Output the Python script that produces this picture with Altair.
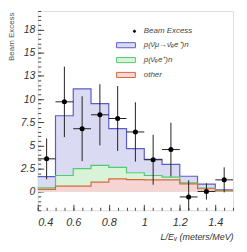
import altair as alt
import pandas as pd

# ---- data ----
bin_edges = [0.4, 0.5, 0.6, 0.7, 0.8, 0.9, 1.0, 1.1, 1.2, 1.3, 1.4, 1.5]
osc_total = [1.63, 8.2, 11.1, 9.5, 6.8, 4.65, 3.5, 2.95, 1.67, 0.82, 0.2]
intrinsic = [0.42, 1.75, 2.5, 2.85, 2.63, 2.05, 1.75, 1.58, 0.95, 0.4, 0.12]
other_bg = [0.25, 0.6, 0.6, 1.03, 1.38, 1.3, 1.28, 1.28, 0.85, 0.32, 0.08]

pt_x = [0.45, 0.55, 0.65, 0.75, 0.85, 0.95, 1.05, 1.15, 1.25, 1.35, 1.45]
pt_y = [3.55, 9.7, 6.8, 8.3, 7.9, 6.45, 3.45, 4.55, -0.56, 0.03, 1.28]
pt_err = [2.2, 3.8, 3.5, 3.3, 3.5, 3.2, 2.7, 2.9, 1.8, 0.88, 1.35]
half_bin = 0.05

x_major = [0.4, 0.6, 0.8, 1.0, 1.2, 1.4]
y_major = [0, 2.5, 5, 7.5, 10, 12.5, 15, 17.5]
x_minor = [round(0.4 + 0.05 * i, 2) for i in range(23)]
y_minor = [i * 0.5 for i in range(-4, 40)]

series_names = ["Beam Excess", "p(ν̄μ→ν̄ₑe⁺)n", "p(ν̄ₑe⁺)n", "other"]
fill_colors = ["#000000", "#dadaf2", "#d8f3d8", "#f6d4d4"]
line_colors = ["#000000", "#5c5cc8", "#50cc70", "#d8683c"]

X_DOMAIN = [0.4, 1.5]
Y_DOMAIN = [-2, 19.5]


def steps(vals):
    return pd.DataFrame({"x": bin_edges, "y": list(vals) + [vals[-1]]})


pts = pd.DataFrame({
    "x": pt_x,
    "y": pt_y,
    "lo": [y - e for y, e in zip(pt_y, pt_err)],
    "hi": [y + e for y, e in zip(pt_y, pt_err)],
    "xlo": [x - half_bin for x in pt_x],
    "xhi": [x + half_bin for x in pt_x],
})

FONT = "Liberation Sans"

xs = alt.Scale(domain=X_DOMAIN, nice=False, zero=False)
ys = alt.Scale(domain=Y_DOMAIN, nice=False, zero=False)

x_main_axis = alt.Axis(
    values=x_major, format="~g", grid=False, domain=False,
    tickSize=alt.ExprRef(expr="-6"), tickColor="#444",
    labelPadding=12, labelFont=FONT, labelFontStyle="italic",
    labelFontSize=11, labelColor="#333",
    title="L/Eᵥ (meters/MeV)", titleFont=FONT, titleFontStyle="italic",
    titleFontWeight="normal", titleFontSize=9, titleColor="#333",
    titleAnchor="end", titleAlign="right", titleBaseline="alphabetic",
    titleX=197, titleY=29, titleAngle=0,
)
y_main_axis = alt.Axis(
    values=y_major, format="~g", grid=False, domain=False,
    tickSize=alt.ExprRef(expr="-6"), tickColor="#444",
    labelPadding=9, labelFont=FONT, labelFontStyle="italic",
    labelFontSize=10.5, labelColor="#333",
    title="Beam Excess", titleFont=FONT, titleFontWeight="normal",
    titleFontSize=8, titleColor="#555",
    titleAngle=270, titleAlign="right", titleBaseline="bottom",
    titleX=-22, titleY=1,
)
x_minor_axis = alt.Axis(
    orient="bottom", values=x_minor, grid=False, domain=False, labels=False,
    tickSize=alt.ExprRef(expr="-3"), tickColor="#444", title=None,
)
y_minor_axis = alt.Axis(
    orient="left", values=y_minor, grid=False, domain=False, labels=False,
    tickSize=alt.ExprRef(expr="-3"), tickColor="#444", title=None,
)


def hist_layers(vals, fill, stroke, first=False):
    d = steps(vals)
    xa = x_main_axis if first else None
    ya = y_main_axis if first else None
    area = alt.Chart(d).mark_area(interpolate="step-after", color=fill, opacity=1).encode(
        x=alt.X("x:Q", scale=xs, axis=xa),
        y=alt.Y("y:Q", scale=ys, axis=ya),
        y2=alt.datum(0),
    )
    line = alt.Chart(d).mark_line(interpolate="step-after", color=stroke, strokeWidth=1.2).encode(
        x=alt.X("x:Q", scale=xs, axis=None),
        y=alt.Y("y:Q", scale=ys, axis=None),
    )
    return [area, line]


layers = []
layers += hist_layers(osc_total, fill_colors[1], line_colors[1], first=True)
layers += hist_layers(intrinsic, fill_colors[2], line_colors[2])
layers += hist_layers(other_bg, fill_colors[3], line_colors[3])

vbars = alt.Chart(pts).mark_rule(color="#222", strokeWidth=1, clip=True).encode(
    x=alt.X("x:Q", scale=xs, axis=None),
    y=alt.Y("lo:Q", scale=ys, axis=None),
    y2="hi:Q",
)
hbars = alt.Chart(pts).mark_rule(color="#222", strokeWidth=1, clip=True).encode(
    x=alt.X("xlo:Q", scale=xs, axis=None),
    x2="xhi:Q",
    y=alt.Y("y:Q", scale=ys, axis=None),
)
dots = alt.Chart(pts).mark_circle(color="#000", size=26, opacity=1).encode(
    x=alt.X("x:Q", scale=xs, axis=x_minor_axis),
    y=alt.Y("y:Q", scale=ys, axis=y_minor_axis),
)
layers += [vbars, hbars, dots]

dot_path = "M0.78,0A0.12,0.12 0 1,0 1.02,0A0.12,0.12 0 1,0 0.78,0Z"
box_path = "M-1,-0.27H1V0.27H-1Z"
leg_df = pd.DataFrame({"series": series_names})
leg_scale_dom = series_names
legend = alt.Legend(
    title=None, orient="none", legendX=79, legendY=10.5,
    symbolSize=361, symbolStrokeWidth=1, symbolOpacity=1,
    labelFont=FONT, labelFontStyle="italic", labelFontSize=8,
    labelColor="#444", labelOffset=8, rowPadding=0, padding=0,
)
leg = alt.Chart(leg_df).mark_point(filled=True, opacity=0).encode(
    shape=alt.Shape("series:N", scale=alt.Scale(domain=leg_scale_dom,
                    range=[dot_path, box_path, box_path, box_path]), legend=legend),
    fill=alt.Fill("series:N", scale=alt.Scale(domain=leg_scale_dom, range=fill_colors), legend=legend),
    stroke=alt.Stroke("series:N", scale=alt.Scale(domain=leg_scale_dom, range=line_colors), legend=legend),
)
layers.append(leg)

chart = alt.layer(*layers).resolve_axis(x="independent", y="independent").properties(
    width=197, height=201,
    autosize=alt.AutoSizeParams(type="none"),
    padding={"left": 30, "top": 2, "right": 6, "bottom": 33},
).configure_view(stroke="#333", strokeWidth=1).configure(background="white")

chart.save("out.html", embed_options={"renderer": "svg", "actions": False})
